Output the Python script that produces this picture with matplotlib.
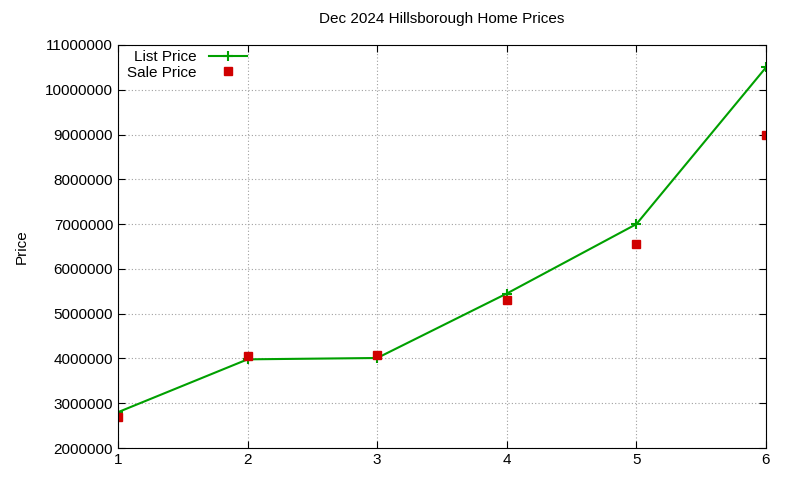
import matplotlib
matplotlib.use("Agg")
import matplotlib.pyplot as plt

plt.rcParams['font.family'] = ['Liberation Sans', 'DejaVu Sans']
x = [1, 2, 3, 4, 5, 6]
list_price = [2800000, 3980000, 4010000, 5450000, 7000000, 10500000]
sale_price = [2700000, 4050000, 4080000, 5300000, 6550000, 9000000]

fig = plt.figure(figsize=(8, 4.8), dpi=100)
ax = fig.add_axes([118/800, 1-448/480, (766-118)/800, (448-45)/480])
ax.plot(x, list_price, color='#00a000', lw=1.5, marker='+', ms=7, mew=1.5, label='List Price')
ax.plot(x, sale_price, ls='none', marker='s', color='#d00000', ms=6, label='Sale Price')
ax.set_xlim(1, 6)
ax.set_ylim(2000000, 11000000)
ax.set_yticks(range(2000000, 11000001, 1000000))
ax.set_yticklabels([str(v) for v in range(2000000, 11000001, 1000000)])
ax.set_xticks(x)
ax.grid(True, color='#a0a0a0', ls=(0, (1, 2)), lw=0.8)
ax.tick_params(direction='in', top=True, right=True, labelsize=11, length=5)
for s in ax.spines.values():
    s.set_linewidth(0.8)
ax.set_ylabel('Price', fontsize=11, labelpad=12)
ax.set_title('Dec 2024 Hillsborough Home Prices', fontsize=11, pad=16)
ax.legend(loc='upper left', bbox_to_anchor=(0.0, 1.01), markerfirst=False, frameon=False,
          fontsize=11, handlelength=2.5, borderaxespad=0.2, labelspacing=0.1)
fig.savefig('out.png', dpi=100)
